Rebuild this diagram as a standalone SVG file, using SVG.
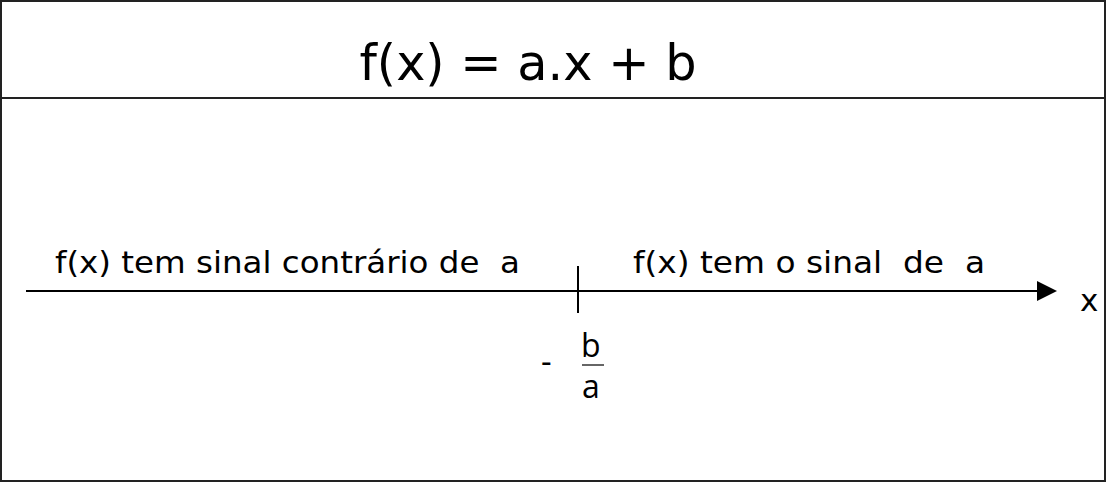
<svg xmlns="http://www.w3.org/2000/svg" width="1107" height="483" viewBox="0 0 1107 483">
<style>
.t{font-family:"DejaVu Sans","Verdana",sans-serif;fill:#000}
.f{font-family:"Open Sans","Noto Sans",sans-serif;fill:#000}
.ln{stroke:#000;stroke-width:2;fill:none}
</style>
<defs>
<marker id="arr" markerWidth="20" markerHeight="20" refX="0" refY="10" orient="auto" markerUnits="userSpaceOnUse">
<path d="M0,0 L20,10 L0,20 Z" fill="#000"/>
</marker>
</defs>
<rect x="1" y="1" width="1104" height="480" fill="#fff" stroke="#222" stroke-width="2"/>
<g id="title">
<line x1="1" y1="98" x2="1105" y2="98" stroke="#222" stroke-width="2"/>
<text class="t" x="528" y="80" font-size="50" text-anchor="middle" textLength="337" lengthAdjust="spacingAndGlyphs">f(x) = a.x + b</text>
</g>
<g id="connectors">
<line class="ln" x1="26" y1="291" x2="1037" y2="291" marker-end="url(#arr)"/>
<line class="ln" x1="578" y1="266" x2="578" y2="313"/>
</g>
<g id="left-label">
<text class="t" x="55" y="273" font-size="31" textLength="465" lengthAdjust="spacingAndGlyphs" xml:space="preserve">f(x) tem sinal contrário de  a</text>
</g>
<g id="right-label">
<text class="t" x="633" y="273" font-size="31" textLength="352" lengthAdjust="spacingAndGlyphs" xml:space="preserve">f(x) tem o sinal  de  a</text>
</g>
<g id="axis-label">
<text class="t" x="1080" y="311" font-size="31">x</text>
</g>
<g id="root">
<text class="f" x="541" y="373" font-size="33">-</text>
<text class="f" x="581" y="357" font-size="32">b</text>
<line x1="582" y1="365" x2="604" y2="365" stroke="#333" stroke-width="1.5"/>
<text class="f" x="582" y="398" font-size="32">a</text>
</g>
</svg>
